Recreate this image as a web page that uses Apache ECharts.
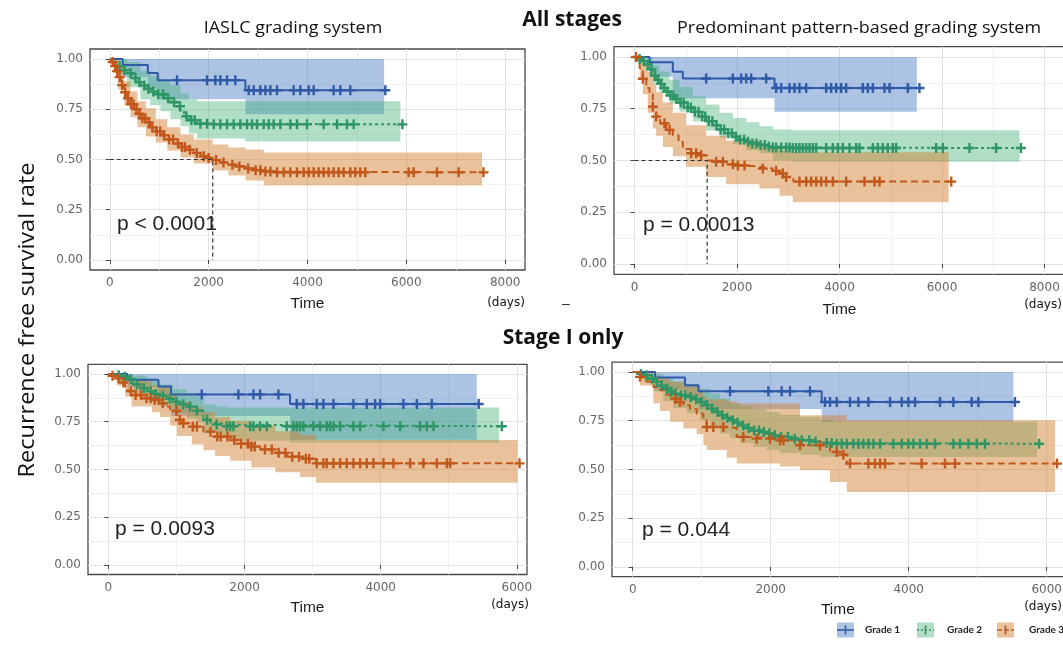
<!DOCTYPE html>
<html><head><meta charset="utf-8">
<script src="https://cdn.jsdelivr.net/npm/echarts@6/dist/echarts.min.js"></script>
<style>html,body{margin:0;padding:0;background:#fff;overflow:hidden;width:1063px;height:647px}#c{width:1100px;height:647px}</style>
</head><body><div id="c"></div>
<script>
// ---------- text ----------
const panelTitles = ['IASLC grading system', 'Predominant pattern-based grading system'];
const rowTitles = ['All stages', 'Stage I only'];
const pValues = ['p < 0.0001', 'p = 0.00013', 'p = 0.0093', 'p = 0.044'];
const gradeNames = ['Grade 1', 'Grade 2', 'Grade 3'];
const yTitle = 'Recurrence free survival rate';
const xTitle = 'Time';
const xUnit = '(days)';
// ---------- tick labels ----------
const xTicksAll = [0, 2000, 4000, 6000, 8000];
const xTicksStage1 = [0, 2000, 4000, 6000];
const yTicks = [0, 0.25, 0.5, 0.75, 1];
// ---------- medians (days) ----------
const medianA3 = 2083;
const medianB3 = 1418;

// ---------- Panel A: IASLC, all stages ----------
const kmA1 = [[0,1],[260,0.97],[770,0.93],[970,0.895],[2743,0.845],[5580,0.845]];
const bandA1 = [[0,1,1],[260,0.91,1],[770,0.85,1],[970,0.80,1],[2743,0.725,1],[5550,0.725,1]];
const censA1 = [1361,1968,2136,2237,2372,2541,2811,2912,3046,3148,3249,3383,3720,3855,4024,4125,4529,4664,4866,5574];
const kmA2 = [[0,1],[80,0.985],[150,0.965],[250,0.945],[350,0.93],[450,0.905],[540,0.885],[620,0.868],[720,0.852],[822,0.838],[960,0.825],[1100,0.805],[1227,0.785],[1350,0.765],[1430,0.74],[1500,0.715],[1600,0.695],[1766,0.678],[2100,0.675],[5920,0.675]];
const bandA2 = [[0,1,1],[150,0.92,1],[350,0.86,0.985],[620,0.80,0.94],[822,0.77,0.915],[1024,0.74,0.895],[1227,0.70,0.87],[1430,0.665,0.83],[1600,0.63,0.80],[1766,0.605,0.79],[2743,0.59,0.79],[5880,0.59,0.79]];
const censA2 = [200,300,420,520,600,700,780,880,980,1080,1180,1300,1420,1550,1650,1720,1833,1968,2103,2237,2372,2507,2642,2777,2878,2979,3114,3215,3316,3451,3653,3788,3990,4327,4597,4799,4934,5920];
const kmA3 = [[0,1],[40,0.985],[80,0.965],[120,0.94],[170,0.91],[230,0.87],[290,0.835],[350,0.805],[420,0.775],[490,0.75],[560,0.728],[640,0.705],[730,0.685],[830,0.66],[930,0.64],[1050,0.62],[1165,0.6],[1300,0.58],[1430,0.562],[1550,0.548],[1700,0.532],[1840,0.516],[1960,0.508],[2083,0.497],[2250,0.485],[2400,0.474],[2550,0.465],[2750,0.455],[2912,0.447],[3114,0.44],[3250,0.436],[7580,0.436]];
const bandA3 = [[0,1,1],[80,0.93,1],[170,0.85,0.96],[290,0.77,0.89],[420,0.71,0.84],[560,0.66,0.79],[730,0.615,0.755],[930,0.585,0.70],[1165,0.545,0.66],[1430,0.51,0.625],[1700,0.48,0.60],[2083,0.445,0.575],[2400,0.42,0.56],[2750,0.395,0.55],[3114,0.37,0.535],[7530,0.37,0.535]];
const censA3 = [60,110,150,200,250,310,370,430,480,540,600,660,720,790,860,950,1020,1100,1200,1280,1380,1460,1520,1620,1760,1900,2000,2150,2300,2480,2620,2800,2950,3046,3148,3249,3383,3518,3653,3788,3922,4024,4125,4226,4327,4428,4529,4630,4731,4866,4967,5068,5169,6046,6147,6619,7057,7560];

// ---------- Panel B: predominant pattern, all stages ----------
const kmB1 = [[0,1],[293,0.975],[748,0.928],[943,0.896],[2732,0.85],[5560,0.85]];
const bandB1 = [[0,1,1],[293,0.905,1],[748,0.80,1],[943,0.80,1],[2732,0.736,1],[5509,0.736,1]];
const censB1 = [1398,1919,2081,2179,2276,2569,2764,2862,3024,3122,3219,3350,3740,3837,3935,4032,4130,4455,4553,4651,4878,4976,5333,5560];
const kmB2 = [[0,1],[60,0.99],[120,0.98],[200,0.965],[280,0.94],[358,0.91],[430,0.89],[488,0.87],[560,0.85],[620,0.832],[683,0.815],[780,0.797],[878,0.78],[1008,0.756],[1138,0.735],[1260,0.712],[1398,0.69],[1530,0.67],[1659,0.65],[1790,0.632],[1919,0.615],[2050,0.60],[2179,0.59],[2300,0.582],[2439,0.575],[2570,0.568],[2699,0.563],[3089,0.56],[7540,0.56]];
const bandB2 = [[0,1,1],[163,0.95,1],[358,0.87,0.96],[488,0.83,0.93],[683,0.775,0.89],[878,0.735,0.855],[1138,0.69,0.81],[1398,0.645,0.77],[1659,0.61,0.73],[1919,0.58,0.705],[2179,0.55,0.685],[2439,0.535,0.665],[2699,0.5,0.65],[3089,0.494,0.646],[7512,0.494,0.646]];
const censB2 = [100,180,260,330,400,460,520,580,640,700,760,820,900,960,1040,1100,1180,1250,1320,1380,1450,1520,1600,1680,1750,1830,1900,1980,2060,2140,2220,2300,2380,2460,2540,2620,2700,2764,2862,2959,3024,3089,3154,3219,3285,3350,3415,3480,3545,3740,3870,3967,4065,4195,4325,4390,4650,4748,4845,4943,5041,5106,5886,6016,6537,7057,7540];
const kmB3 = [[0,1],[50,0.975],[100,0.945],[163,0.895],[230,0.85],[293,0.82],[358,0.76],[423,0.712],[500,0.68],[618,0.648],[748,0.622],[860,0.59],[943,0.565],[1008,0.555],[1100,0.535],[1268,0.525],[1418,0.50],[1593,0.494],[1789,0.482],[1984,0.476],[2179,0.47],[2439,0.461],[2699,0.45],[2829,0.437],[2959,0.42],[3100,0.398],[6180,0.398]];
const bandB3 = [[0,1,1],[100,0.89,1],[163,0.82,0.975],[260,0.73,0.93],[358,0.655,0.87],[423,0.62,0.83],[553,0.565,0.78],[748,0.52,0.73],[1008,0.47,0.67],[1398,0.42,0.62],[1789,0.385,0.595],[2439,0.365,0.565],[2829,0.33,0.55],[3089,0.298,0.54],[6130,0.298,0.54]];
const censB3 = [30,163,358,423,585,683,1106,1203,1301,1594,1724,1919,2017,2147,2504,2764,2894,2959,3219,3350,3447,3545,3642,3740,3870,4130,4488,4683,4781,6180];

// ---------- Panel C: IASLC, stage I ----------
const kmC1 = [[0,1],[280,0.969],[735,0.934],[920,0.893],[2669,0.843],[5440,0.843]];
const bandC1 = [[0,1,1],[280,0.93,1],[735,0.865,1],[920,0.78,1],[2669,0.655,1],[5412,0.655,1]];
const censC1 = [1371,1910,2131,2229,2498,2767,2865,3061,3159,3306,3600,3796,3918,3992,4335,4531,4751,5440];
const kmC2 = [[0,1],[80,0.993],[172,0.985],[269,0.972],[366,0.945],[470,0.925],[563,0.91],[660,0.895],[759,0.885],[860,0.87],[955,0.855],[1050,0.842],[1151,0.829],[1298,0.808],[1396,0.76],[1500,0.745],[1592,0.735],[1739,0.726],[5780,0.726]];
const bandC2 = [[0,1,1],[172,0.96,1],[366,0.90,0.99],[563,0.865,0.965],[759,0.83,0.945],[955,0.795,0.92],[1151,0.765,0.9],[1298,0.745,0.88],[1396,0.69,0.84],[1592,0.665,0.83],[1739,0.65,0.825],[2669,0.64,0.825],[5740,0.64,0.825]];
const censC2 = [150,240,330,420,520,620,700,800,900,1000,1100,1200,1300,1450,1592,1739,1788,1837,2082,2131,2229,2327,2620,2718,2767,2816,2865,3012,3110,3208,3257,3306,3404,3600,3698,4041,4286,4580,4678,4776,5780];
const kmC3 = [[0,1],[60,0.99],[120,0.977],[200,0.955],[245,0.934],[290,0.91],[340,0.89],[490,0.873],[640,0.864],[759,0.846],[830,0.83],[906,0.806],[1004,0.759],[1100,0.742],[1225,0.724],[1396,0.698],[1567,0.672],[1788,0.654],[1950,0.635],[2100,0.62],[2229,0.605],[2450,0.587],[2620,0.567],[2816,0.556],[3050,0.532],[6040,0.532]];
const bandC3 = [[0,1,1],[120,0.94,1],[245,0.88,0.99],[340,0.83,0.965],[640,0.8,0.94],[759,0.775,0.93],[906,0.73,0.895],[1004,0.675,0.855],[1225,0.63,0.825],[1396,0.60,0.80],[1567,0.57,0.775],[1788,0.545,0.755],[2100,0.51,0.73],[2450,0.485,0.70],[2816,0.46,0.68],[3050,0.431,0.654],[6010,0.431,0.654]];
const censC3 = [60,150,220,330,400,480,560,620,680,740,800,1000,1050,1100,1240,1300,1500,1600,1650,1750,1850,1950,2050,2100,2150,2300,2400,2500,2600,2700,2800,2900,2950,3061,3159,3208,3306,3404,3502,3600,3698,3796,3894,4041,4188,4433,4629,4825,4972,5020,6040];

// ---------- Panel D: predominant pattern, stage I ----------
const kmD1 = [[0,1],[324,0.971],[758,0.932],[952,0.901],[2739,0.846],[5540,0.846]];
const bandD1 = [[0,1,1],[324,0.91,1],[758,0.86,1],[952,0.81,1],[2739,0.745,1],[5517,0.745,1]];
const censD1 = [1411,1966,2159,2280,2570,2787,2860,2957,3150,3271,3416,3730,3899,3995,4092,4454,4647,4913,5010,5540];
const kmD2 = [[0,1],[80,0.99],[155,0.983],[230,0.965],[300,0.949],[370,0.93],[444,0.915],[520,0.9],[589,0.889],[680,0.88],[783,0.872],[880,0.86],[976,0.846],[1050,0.83],[1121,0.812],[1190,0.795],[1266,0.778],[1340,0.765],[1411,0.752],[1480,0.74],[1556,0.726],[1650,0.712],[1749,0.70],[1850,0.692],[1942,0.684],[2040,0.675],[2135,0.667],[2280,0.658],[2425,0.65],[2570,0.642],[2715,0.636],[2900,0.632],[5890,0.632]];
const bandD2 = [[0,1,1],[155,0.95,1],[300,0.90,0.99],[444,0.85,0.965],[589,0.815,0.95],[783,0.79,0.935],[976,0.755,0.915],[1121,0.72,0.89],[1266,0.685,0.865],[1411,0.66,0.84],[1556,0.635,0.825],[1749,0.615,0.81],[1942,0.60,0.795],[2135,0.585,0.78],[2425,0.575,0.77],[2715,0.565,0.755],[2900,0.564,0.744],[5860,0.564,0.744]];
const censD2 = [120,200,280,350,420,500,560,620,700,760,840,920,1000,1080,1150,1230,1300,1370,1450,1520,1600,1680,1760,1830,1900,1980,2060,2150,2250,2350,2450,2560,2650,2812,2884,2957,3029,3102,3198,3271,3343,3416,3488,3585,3778,3899,3995,4068,4164,4261,4382,4647,4744,4865,4986,5106,5890];
const kmD3 = [[0,1],[106,0.975],[200,0.95],[300,0.923],[396,0.906],[470,0.885],[541,0.863],[640,0.846],[734,0.829],[830,0.81],[928,0.786],[1024,0.752],[1073,0.718],[1362,0.713],[1507,0.667],[1652,0.658],[2135,0.65],[2329,0.641],[2425,0.624],[2860,0.59],[3005,0.576],[3102,0.53],[6150,0.53]];
const bandD3 = [[0,1,1],[106,0.93,1],[300,0.84,0.98],[396,0.80,0.97],[541,0.745,0.95],[734,0.71,0.93],[928,0.68,0.90],[1024,0.625,0.875],[1073,0.60,0.86],[1362,0.56,0.85],[1507,0.53,0.838],[2135,0.515,0.838],[2425,0.496,0.778],[2860,0.436,0.778],[3102,0.385,0.752],[6120,0.385,0.752]];
const censD3 = [106,614,686,1073,1169,1314,1604,1797,1990,2135,2184,2425,2715,2957,3053,3150,3416,3512,3585,3657,4188,4527,4671,6150];

// ---------- styling ----------
const lineColors = ['#2f5aa8', '#2e9565', '#c2581b'];
const bandColors = ['rgba(60,112,190,0.42)', 'rgba(66,177,122,0.42)', 'rgba(210,128,48,0.48)'];
const dashes = ['solid', [3, 3], [7, 4]];
const plusPath = 'path://M3.8,0H6.2V3.8H10V6.2H6.2V10H3.8V6.2H0V3.8H3.8Z';
const FONT = 'Liberation Sans';
const TICKFONT = 'DejaVu Sans';

const panels = [
  { km: [kmA1, kmA2, kmA3], band: [bandA1, bandA2, bandA3], cens: [censA1, censA2, censA3], median: medianA3, ticks: xTicksAll, min: -400, max: 8400, nameGap: 26, namePad: 0 },
  { km: [kmB1, kmB2, kmB3], band: [bandB1, bandB2, bandB3], cens: [censB1, censB2, censB3], median: medianB3, ticks: xTicksAll, min: -400, max: 8400, nameGap: 27, namePad: 0 },
  { km: [kmC1, kmC2, kmC3], band: [bandC1, bandC2, bandC3], cens: [censC1, censC2, censC3], median: null, ticks: xTicksStage1, min: -300, max: 6150, nameGap: 25, namePad: 0 },
  { km: [kmD1, kmD2, kmD3], band: [bandD1, bandD2, bandD3], cens: [censD1, censD2, censD3], median: null, ticks: xTicksStage1, min: -300, max: 6450, nameGap: 25, namePad: 14 }
];
const grids = [
  { left: 90, top: 49, width: 435, height: 221 },
  { left: 614, top: 46.6, width: 451, height: 227.8 },
  { left: 88, top: 364.4, width: 439, height: 210.1 },
  { left: 612, top: 362.2, width: 465.75, height: 214.5 }
];

function survAt(km, t) {
  let v = km[0][1];
  for (const p of km) { if (p[0] <= t) v = p[1]; else break; }
  return v;
}

function bandSeries(gi, band, color) {
  return {
    type: 'custom', xAxisIndex: gi, yAxisIndex: gi, z: 1, silent: true,
    data: [[band[0][0], band[0][2]]],
    renderItem: function (params, api) {
      const up = [], lo = [];
      for (let i = 0; i < band.length; i++) {
        const t0 = band[i][0];
        const t1 = i < band.length - 1 ? band[i + 1][0] : band[i][0];
        up.push(api.coord([t0, band[i][2]]), api.coord([t1, band[i][2]]));
        lo.push(api.coord([t0, band[i][1]]), api.coord([t1, band[i][1]]));
      }
      return { type: 'polygon', shape: { points: up.concat(lo.reverse()) }, style: { fill: color } };
    }
  };
}

const series = [];
const xAxes = [], yAxes = [];
panels.forEach((p, gi) => {
  xAxes.push({
    type: 'value', gridIndex: gi, min: p.min, max: p.max, minInterval: 2000, maxInterval: 2000,
    name: xTitle, nameLocation: 'middle', nameGap: p.nameGap,
    nameTextStyle: { fontSize: 15.5, color: '#1a1a1a', fontFamily: FONT, padding: [0, p.namePad, 0, 0] },
    axisLine: { show: false },
    axisTick: { show: true, length: 4, customValues: p.ticks, lineStyle: { color: '#444', width: 1 } },
    axisLabel: { margin: 7, color: '#666', fontSize: 12, fontFamily: TICKFONT, customValues: p.ticks,
      formatter: v => (p.ticks.indexOf(v) >= 0 ? String(v) : '') },
    splitLine: { show: true, lineStyle: { color: '#e3e3e3', width: 1 } },
    minorTick: { show: false, splitNumber: 2 },
    minorSplitLine: { show: true, lineStyle: { color: '#eeeeee', width: 0.8 } }
  });
  yAxes.push({
    type: 'value', gridIndex: gi, min: -0.05, max: 1.05, minInterval: 0.25, maxInterval: 0.25,
    axisLine: { show: false },
    axisTick: { show: true, length: 4, customValues: yTicks, lineStyle: { color: '#444', width: 1 } },
    axisLabel: { margin: 7, color: '#666', fontSize: 12, fontFamily: TICKFONT, customValues: yTicks,
      formatter: v => (yTicks.some(t => Math.abs(t - v) < 1e-9) ? v.toFixed(2) : '') },
    splitLine: { show: true, lineStyle: { color: '#e3e3e3', width: 1 } },
    minorTick: { show: false, splitNumber: 2 },
    minorSplitLine: { show: true, lineStyle: { color: '#eeeeee', width: 0.8 } }
  });
  for (let g = 0; g < 3; g++) series.push(bandSeries(gi, p.band[g], bandColors[g]));
  for (let g = 0; g < 3; g++) {
    series.push({
      type: 'line', name: gradeNames[g], xAxisIndex: gi, yAxisIndex: gi, step: 'end', z: 3, silent: true,
      showSymbol: false, data: p.km[g],
      lineStyle: { color: lineColors[g], width: 2, type: dashes[g] }
    });
    series.push({
      type: 'scatter', xAxisIndex: gi, yAxisIndex: gi, z: 4, silent: true,
      symbol: plusPath, symbolSize: 10,
      data: p.cens[g].map(t => [t, survAt(p.km[g], t)]),
      itemStyle: { color: lineColors[g], opacity: 1 }
    });
  }
  if (p.median !== null) {
    series.push({
      type: 'line', xAxisIndex: gi, yAxisIndex: gi, z: 5, silent: true, showSymbol: false,
      data: [[0, 0.5], [p.median, 0.5], [p.median, 0]],
      lineStyle: { color: '#333', width: 1.2, type: [4, 3] }
    });
  }
});

// ---------- texts & legend ----------
function txt(text, x, y, font, opts) {
  opts = opts || {};
  return { type: 'text', x: x, y: y, rotation: opts.rotation || 0, scaleX: opts.scaleX || 1, silent: true, z: 10,
    style: { text: text, font: font, fill: opts.fill || '#111', align: opts.align || 'center',
      verticalAlign: 'middle', textAlign: opts.align || 'center', textVerticalAlign: 'middle' } };
}
const graphics = [
  txt(rowTitles[0], 572, 20, 'bold 21px "Open Sans"'),
  txt(rowTitles[1], 563, 338, 'bold 21px "Open Sans"'),
  txt(panelTitles[0], 293, 28, '16px "Open Sans"', { scaleX: 1.12 }),
  txt(panelTitles[1], 859, 28, '16px "Open Sans"', { scaleX: 1.12 }),
  txt(yTitle, 28, 320, '21px "Open Sans"', { rotation: Math.PI / 2, scaleX: 1.12 }),
  txt(pValues[0], 117, 224, '21px "' + FONT + '"', { align: 'left', fill: '#222' }),
  txt(pValues[1], 643, 225, '21px "' + FONT + '"', { align: 'left', fill: '#222' }),
  txt(pValues[2], 115, 529, '21px "' + FONT + '"', { align: 'left', fill: '#222' }),
  txt(pValues[3], 642, 530, '21px "' + FONT + '"', { align: 'left', fill: '#222' }),
  txt(xUnit, 506, 303, '12px "' + TICKFONT + '"'),
  txt(xUnit, 1043, 305, '12px "' + TICKFONT + '"'),
  txt(xUnit, 510, 605, '12px "' + TICKFONT + '"'),
  txt(xUnit, 1043, 607, '12px "' + TICKFONT + '"'),
  txt('\u2013', 566, 304, '14px "' + FONT + '"', { fill: '#333' })
];
const legendX = [837, 917, 997];
const legendTextX = [865, 947, 1029];
for (let g = 0; g < 3; g++) {
  const x = legendX[g], y = 630;
  graphics.push({ type: 'rect', silent: true, z: 10, shape: { x: x, y: y - 7.5, width: 17, height: 15 }, style: { fill: bandColors[g] } });
  graphics.push({ type: 'line', silent: true, z: 11, shape: { x1: x, y1: y, x2: x + 17, y2: y },
    style: { stroke: lineColors[g], lineWidth: 1.6, lineDash: g === 0 ? null : (g === 1 ? [2, 2] : [5, 2]) } });
  graphics.push({ type: 'line', silent: true, z: 11, shape: { x1: x + 8.5, y1: y - 4.5, x2: x + 8.5, y2: y + 4.5 },
    style: { stroke: lineColors[g], lineWidth: 1.6 } });
  graphics.push(txt(gradeNames[g], legendTextX[g], y, 'bold 10px "Lato"', { align: 'left', fill: '#222' }));
}

const chart = echarts.init(document.getElementById('c'), null, { renderer: 'canvas', width: 1100, height: 647 });
chart.setOption({
  animation: false,
  backgroundColor: '#fff',
  grid: grids.map(g => Object.assign({ show: true, borderColor: '#4a4a4a', borderWidth: 1.3, backgroundColor: 'transparent', containLabel: false }, g)),
  xAxis: xAxes,
  yAxis: yAxes,
  series: series,
  graphic: graphics
});
</script></body></html>
